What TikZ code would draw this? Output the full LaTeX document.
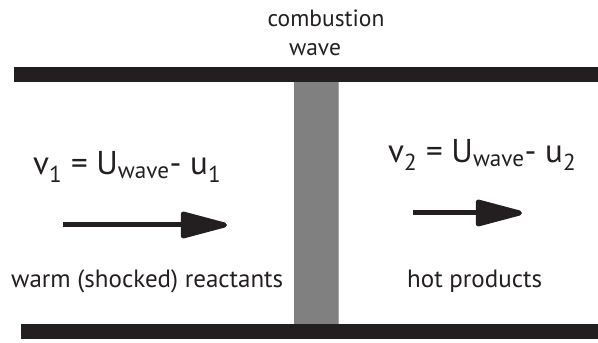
\documentclass[tikz,border=0pt]{standalone}
\usepackage{fontspec}
\setmainfont{PT Sans}
\usetikzlibrary{arrows.meta,positioning}
\definecolor{cInk}{HTML}{231F20}
\definecolor{cWave}{HTML}{808080}
\tikzset{
  wall/.style    ={fill=cInk},
  front/.style   ={fill=cWave},
  lbl/.style     ={font=\fontsize{25}{30}\selectfont,text=cInk,inner sep=0pt},
  heading/.style ={lbl,font=\fontsize{23.5}{28}\selectfont},
  eqn/.style     ={font=\fontsize{33}{38}\selectfont,text=cInk,inner sep=0pt},
  flow/.style    ={-{Triangle[length=54pt,width=27pt,round]},draw=cInk,line width=5pt},
}
\begin{document}
\begin{tikzpicture}[x=1pt, y=1pt]
\useasboundingbox (0,0) rectangle (598,343);

% tube walls and the wave front
\fill[wall]  (14,261) rectangle (598,276);
\fill[wall]  (21,4)   rectangle (598,19);
\fill[front] (294,19) rectangle (339,261);
\draw[cWave!70!white,line width=1pt] (338.5,19) -- (338.5,261);

\node[heading,anchor=base] (comb) at (326,316) {combustion};
\node[heading,anchor=base] (wave) at (315,287) {wave};

% reactant side
\node[eqn,anchor=base west] (vone) at (33,168)
  {v\textsubscript{1} = U\textsubscript{wave}- u\textsubscript{1}};
\coordinate (aone) at (63,118);
\coordinate (bone) at (227,118);
\draw[flow] (aone) -- (bone);
\node[lbl,anchor=base west] (reac) at (11,55) {warm (shocked) reactants};

% product side
\node[eqn,anchor=base west] (vtwo) at (388,180)
  {v\textsubscript{2} = U\textsubscript{wave}- u\textsubscript{2}};
\coordinate (atwo) at (413,130);
\coordinate (btwo) at (522,130);
\draw[flow] (atwo) -- (btwo);
\node[lbl,anchor=base west] (prod) at (407,55) {hot products};
\end{tikzpicture}
\end{document}
